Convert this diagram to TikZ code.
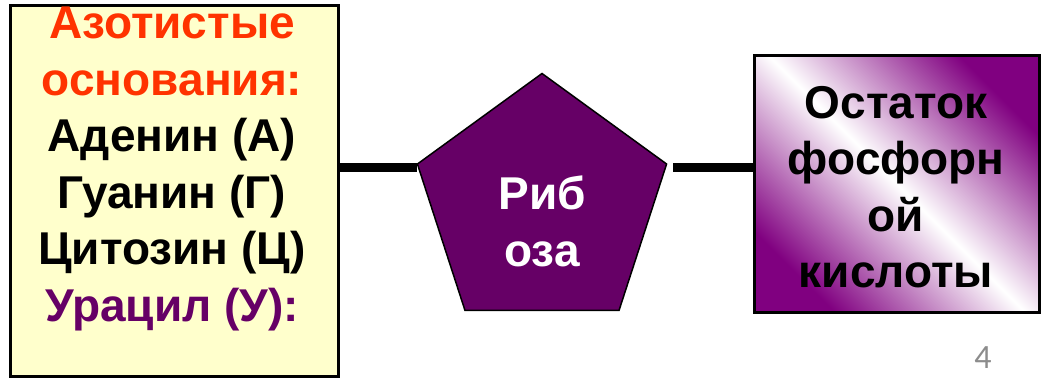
\documentclass[tikz,border=0pt]{standalone}
\usepackage{fontspec}
\setmainfont{Liberation Sans}
\newfontfamily\pnumfont{Carlito}
\usetikzlibrary{shapes.geometric}
\definecolor{boxyellow}{HTML}{FFFFCC}
\definecolor{headred}{HTML}{FF3300}
\definecolor{darkpurple}{HTML}{660066}
\definecolor{gradpurple}{HTML}{800080}
\definecolor{pagegray}{HTML}{8C8C8C}
\tikzset{
  bigtext/.style={font=\fontsize{46}{56.5}\selectfont\bfseries, align=center, inner sep=0pt},
  connector/.style={line width=8.5pt, black},
}
\begin{document}
\begin{tikzpicture}[x=1pt,y=1pt]
\useasboundingbox (0,0) rectangle (1048,383);
% left box
\node[draw=black, line width=3pt, fill=boxyellow, minimum width=328pt, minimum height=371pt, inner sep=0pt, anchor=south west] (lbox) at (9,5) {};
\node[bigtext, anchor=north] (ltext) at (172,376) {%
\textcolor{headred}{Азотистые}\\
\textcolor{headred}{основания:}\\
Аденин (А)\\
Гуанин (Г)\\
Цитозин (Ц)\\
\textcolor{darkpurple}{Урацил (У):}};
% pentagon
\node[regular polygon, regular polygon sides=5, minimum size=262pt, inner sep=0pt, draw=black, line width=1.5pt, fill=darkpurple] (rib) at (542,178.5) {};
\node[bigtext, text=white, anchor=north] (ribtext) at (542,207) {Риб\\оза};
% right box
\node[draw=black, line width=3pt, minimum width=285pt, minimum height=257pt, inner sep=0pt, anchor=south west,
  top color=gradpurple, bottom color=gradpurple, middle color=white, shading angle=-45] (rbox) at (753,69) {};
\node[bigtext, anchor=north] (rtext) at (896,297) {Остаток\\фосфорн\\ой\\кислоты};
% connectors
\coordinate (lend) at ([yshift=-4pt]rib.corner 2);
\coordinate (rstart) at ([xshift=6pt,yshift=-4pt]rib.corner 5);
\draw[connector] (lbox.east |- lend) -- (lend);
\draw[connector] (rstart) -- (rbox.west |- rstart);
% page number
\node[font=\pnumfont\fontsize{34}{34}\selectfont, text=pagegray, inner sep=0pt] (pnum) at (983,25) {4};
\end{tikzpicture}
\end{document}
